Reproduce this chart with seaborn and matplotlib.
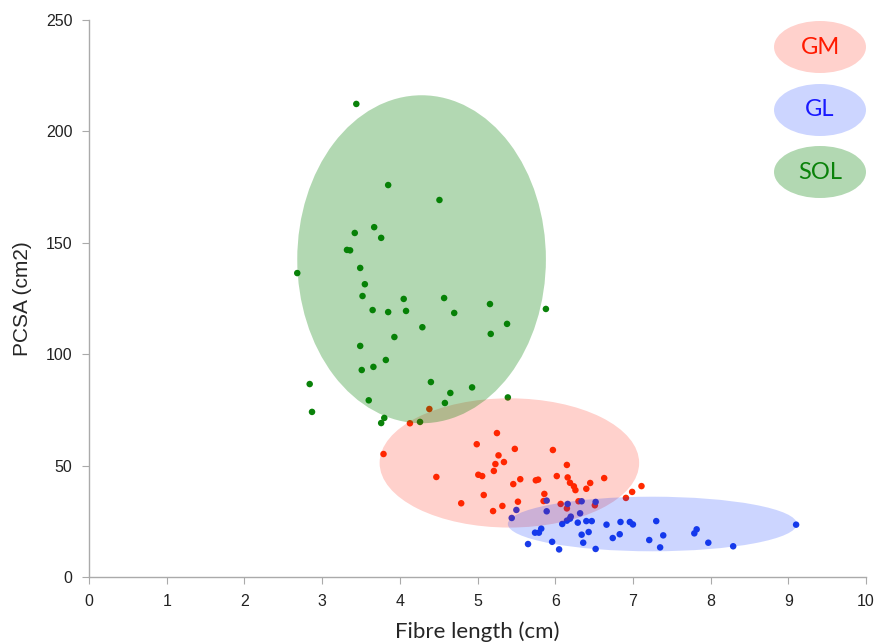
import numpy as np
import pandas as pd
import matplotlib
matplotlib.use("Agg")
import matplotlib.pyplot as plt
import seaborn as sns
from matplotlib.patches import Ellipse

# ── Data ──
sol_x = [3.44, 3.85, 4.51, 3.67, 3.42, 3.76, 3.32, 3.36, 2.68, 3.49,
         3.55, 3.52, 4.05, 4.57, 5.16, 5.88, 3.65, 3.85, 4.08, 4.70,
         5.38, 4.29, 5.17, 3.93, 3.49, 3.82, 3.66, 3.51, 2.84, 4.40,
         4.93, 4.65, 3.60, 5.39, 4.58, 2.87, 3.80, 3.76, 4.26]
sol_y = [212.3, 175.9, 169.2, 157.0, 154.4, 152.2, 146.8, 146.6, 136.4, 138.7,
         131.4, 126.1, 124.8, 125.2, 122.5, 120.3, 119.8, 118.9, 119.4, 118.5,
         113.6, 112.1, 109.1, 107.7, 103.7, 97.4, 94.3, 92.9, 86.6, 87.5,
         85.1, 82.6, 79.3, 80.6, 78.1, 74.1, 71.4, 69.1, 69.6]

gm_x = [4.13, 4.38, 5.25, 4.99, 3.79, 5.48, 5.97, 5.27, 5.34, 5.23,
        6.15, 5.21, 5.01, 5.06, 4.47, 6.02, 6.16, 6.63, 5.55, 5.75,
        5.78, 5.46, 6.19, 6.45, 6.24, 6.26, 6.40, 7.11, 6.99, 6.91,
        5.86, 5.08, 5.85, 5.52, 4.79, 5.32, 5.20, 6.07, 6.15, 6.30, 6.51]
gm_y = [69.0, 75.4, 64.6, 59.6, 55.2, 57.5, 57.0, 54.6, 51.6, 50.7,
        50.3, 47.6, 45.9, 45.3, 44.9, 45.3, 44.7, 44.4, 43.9, 43.4,
        43.7, 41.7, 42.3, 42.2, 40.7, 39.0, 39.6, 40.8, 38.2, 35.5,
        37.3, 36.8, 34.1, 33.8, 33.1, 31.9, 29.6, 32.8, 30.8, 34.0, 32.2]

gl_x = [9.10, 5.89, 6.16, 6.34, 6.52, 5.50, 5.89, 6.32, 5.44, 6.09,
        6.15, 6.19, 6.20, 6.29, 6.40, 6.47, 6.66, 6.84, 6.96, 7.00,
        7.30, 7.82, 7.79, 5.82, 5.79, 5.74, 6.43, 6.34, 6.83, 6.74,
        7.39, 7.21, 5.65, 5.96, 6.36, 6.05, 6.52, 7.35, 7.97, 8.29]
gl_y = [23.5, 34.3, 32.8, 34.0, 33.7, 30.1, 29.5, 28.6, 26.5, 23.8,
        25.3, 26.2, 27.1, 24.4, 25.1, 25.1, 23.5, 24.7, 24.7, 23.6,
        25.1, 21.4, 19.6, 21.7, 19.9, 19.9, 20.2, 19.0, 19.2, 17.5,
        18.7, 16.6, 14.8, 15.8, 15.4, 12.4, 12.6, 13.3, 15.4, 13.8]

groups = ["GM", "GL", "SOL"]
point_colors = {"GM": "#ff2a00", "GL": "#1a3ce8", "SOL": "#0a820a"}
fill_colors = {"GM": ("#ff1a00", 0.2), "GL": ("#0030ff", 0.2), "SOL": ("#008000", 0.3)}

# ellipse centre (x, y), width, height in data units
ell_cx = {"GM": 5.41, "GL": 7.25, "SOL": 4.28}
ell_cy = {"GM": 51.2, "GL": 23.8, "SOL": 142.6}
ell_w = {"GM": 3.34, "GL": 3.72, "SOL": 3.20}
ell_h = {"GM": 58.0, "GL": 24.5, "SOL": 147.2}

df = pd.concat([
    pd.DataFrame({"x": gm_x, "y": gm_y, "muscle": "GM"}),
    pd.DataFrame({"x": gl_x, "y": gl_y, "muscle": "GL"}),
    pd.DataFrame({"x": sol_x, "y": sol_y, "muscle": "SOL"}),
], ignore_index=True)

sns.set_style("white")

fig = plt.figure(figsize=(8.77, 6.43), dpi=100)
ax = fig.add_axes([0.1015, 0.1026, 0.886, 0.8664])

sns.scatterplot(data=df, x="x", y="y", hue="muscle", palette=point_colors,
                s=22, edgecolor="none", legend=False, ax=ax, zorder=2)

# ── Ellipses drawn on top, semi transparent ──
for g in groups:
    col, a = fill_colors[g]
    ax.add_patch(Ellipse((ell_cx[g], ell_cy[g]), ell_w[g], ell_h[g],
                         facecolor=col, alpha=a, edgecolor="none", zorder=3))

ax.set_xlim(0, 10)
ax.set_ylim(0, 250)
ax.set_xticks(range(0, 11))
ax.set_yticks(range(0, 251, 50))

for side in ["top", "right"]:
    ax.spines[side].set_visible(False)
for side in ["left", "bottom"]:
    ax.spines[side].set_color("#aaaaaa")
    ax.spines[side].set_linewidth(1)
ax.tick_params(axis="both", direction="out", length=5, color="#aaaaaa",
               labelsize=11.5, labelcolor="#222222", pad=7)
ax.tick_params(axis="x", bottom=True)
ax.tick_params(axis="y", left=True)

for lbl in ax.get_xticklabels() + ax.get_yticklabels():
    lbl.set_fontfamily("Liberation Sans")

ax.set_xlabel("Fibre length (cm)", fontsize=16, family="Lato", labelpad=9)
ax.set_ylabel("PCSA (cm2)", fontsize=15, family="Liberation Sans", labelpad=10)

# ── Legend: coloured ellipses with labels (figure pixel positions) ──
leg_y = {"GM": 47, "GL": 110, "SOL": 172}
text_colors = {"GM": "#ff1a00", "GL": "#1a1aff", "SOL": "#0a820a"}
for g in groups:
    col, a = fill_colors[g]
    cx = 820 / 877
    cy = 1 - leg_y[g] / 643
    fig.patches.append(Ellipse((cx, cy), 92 / 877, 52 / 643, facecolor=col, alpha=a,
                               edgecolor="none", transform=fig.transFigure, figure=fig))
    fig.text(cx, cy, g, color=text_colors[g], fontsize=17, family="Lato",
             ha="center", va="center")

fig.savefig("out.png", dpi=100)
